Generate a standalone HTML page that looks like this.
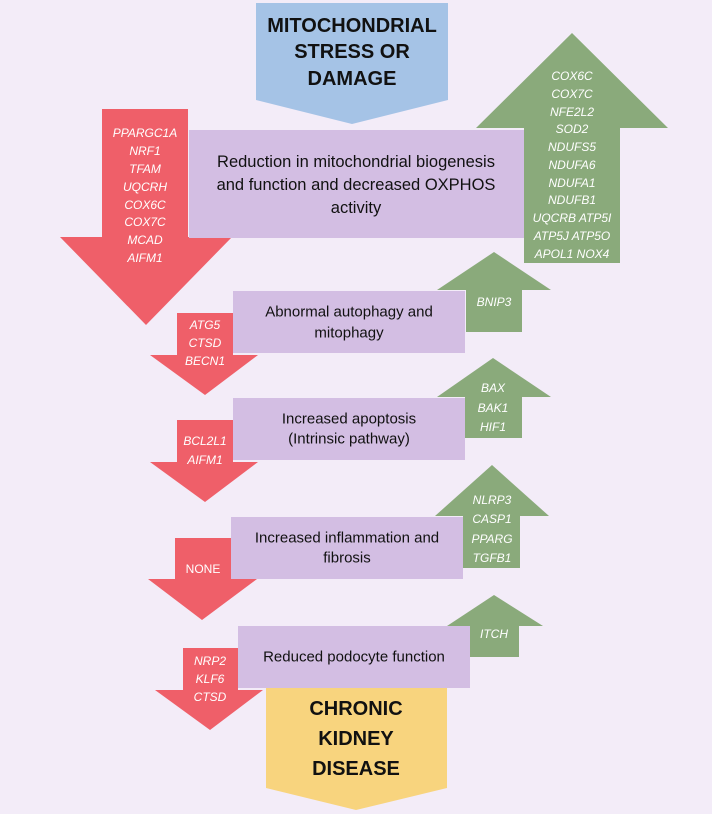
<!DOCTYPE html>
<html><head><meta charset="utf-8"><style>
html,body{margin:0;padding:0;background:#f3ecf8;}
svg{display:block}
.g{fill:#fff;font-family:"Liberation Sans",sans-serif;font-style:italic;font-size:12px;text-anchor:middle;dominant-baseline:central}
.p{fill:#111;font-family:"Liberation Sans",sans-serif;font-size:15px;text-anchor:middle;dominant-baseline:central}
.t{fill:#111;font-family:"Liberation Sans",sans-serif;font-weight:bold;font-size:20px;text-anchor:middle;dominant-baseline:central}
</style></head><body>
<svg width="712" height="814" viewBox="0 0 712 814" xmlns="http://www.w3.org/2000/svg">
<rect width="712" height="814" fill="#f3ecf8"/>
<!-- blue -->
<polygon points="256,3 448,3 448,100 352,124 256,100" fill="#a5c3e6"/>
<!-- red arrows -->
<g fill="#ef5f69">
<polygon points="102,109 188,109 188,237 232,237 146,325 60,237 102,237"/>
<polygon points="177,313 233,313 233,355 258,355 205,395 150,355 177,355"/>
<polygon points="177,420 233,420 233,462 258,462 205,502 150,462 177,462"/>
<polygon points="175,538 231,538 231,579 257,579 202,620 148,579 175,579"/>
<polygon points="183,648 238,648 238,690 263,690 210,730 155,690 183,690"/>
</g>
<!-- green arrows -->
<g fill="#8aaa7b">
<polygon points="572,33 668,128 620,128 620,263 524,263 524,128 476,128"/>
<polygon points="494,252 551,290 522,290 522,332 466,332 466,290 437,290"/>
<polygon points="493,358 551,397 522,397 522,438 465,438 465,397 437,397"/>
<polygon points="492,465 549,516 520,516 520,568 463,568 463,516 435,516"/>
<polygon points="494,595 543,626 519,626 519,657 470,657 470,626 447,626"/>
</g>
<!-- yellow -->
<polygon points="266,680 447,680 447,788 356,810 266,788" fill="#f8d47e"/>
<!-- purple -->
<g fill="#d3bee3">
<rect x="189" y="130" width="335" height="108"/>
<rect x="233" y="291" width="232" height="62"/>
<rect x="233" y="398" width="232" height="62"/>
<rect x="231" y="517" width="232" height="62"/>
<rect x="238" y="626" width="232" height="62"/>
</g>
<!-- texts -->
<text class="t" x="352" y="26">MITOCHONDRIAL</text>
<text class="t" x="352" y="52">STRESS OR</text>
<text class="t" x="352" y="79">DAMAGE</text>
<text class="t" x="356" y="709">CHRONIC</text>
<text class="t" x="356" y="739">KIDNEY</text>
<text class="t" x="356" y="769">DISEASE</text>
<g class="p" style="font-size:16.5px">
<text x="356" y="162">Reduction in mitochondrial biogenesis</text>
<text x="356" y="185">and function and decreased OXPHOS</text>
<text x="356" y="208">activity</text>
</g>
<text class="p" x="349" y="312">Abnormal autophagy and</text>
<text class="p" x="349" y="333">mitophagy</text>
<text class="p" x="349" y="419">Increased apoptosis</text>
<text class="p" x="349" y="439">(Intrinsic pathway)</text>
<text class="p" x="347" y="538">Increased inflammation and</text>
<text class="p" x="347" y="558">fibrosis</text>
<text class="p" x="354" y="657">Reduced podocyte function</text>
<g class="g">
<text x="572" y="76">COX6C</text><text x="572" y="94">COX7C</text><text x="572" y="112">NFE2L2</text>
<text x="572" y="129">SOD2</text><text x="572" y="147">NDUFS5</text><text x="572" y="165">NDUFA6</text>
<text x="572" y="183">NDUFA1</text><text x="572" y="200">NDUFB1</text><text x="572" y="218">UQCRB  ATP5I</text>
<text x="572" y="236">ATP5J  ATP5O</text><text x="572" y="254">APOL1  NOX4</text>
<text x="145" y="133">PPARGC1A</text><text x="145" y="151">NRF1</text><text x="145" y="169">TFAM</text>
<text x="145" y="187">UQCRH</text><text x="145" y="205">COX6C</text><text x="145" y="222">COX7C</text>
<text x="145" y="240">MCAD</text><text x="145" y="258">AIFM1</text>
<text x="494" y="302">BNIP3</text>
<text x="205" y="325">ATG5</text><text x="205" y="343">CTSD</text><text x="205" y="361">BECN1</text>
<text x="493" y="388">BAX</text><text x="493" y="408">BAK1</text><text x="493" y="427">HIF1</text>
<text x="205" y="441">BCL2L1</text><text x="205" y="460">AIFM1</text>
<text x="492" y="500">NLRP3</text><text x="492" y="519">CASP1</text><text x="492" y="539">PPARG</text><text x="492" y="558">TGFB1</text>
<text x="203" y="569" style="font-style:normal">NONE</text>
<text x="494" y="634">ITCH</text>
<text x="210" y="661">NRP2</text><text x="210" y="679">KLF6</text><text x="210" y="697">CTSD</text>
</g>
</svg>
</body></html>
